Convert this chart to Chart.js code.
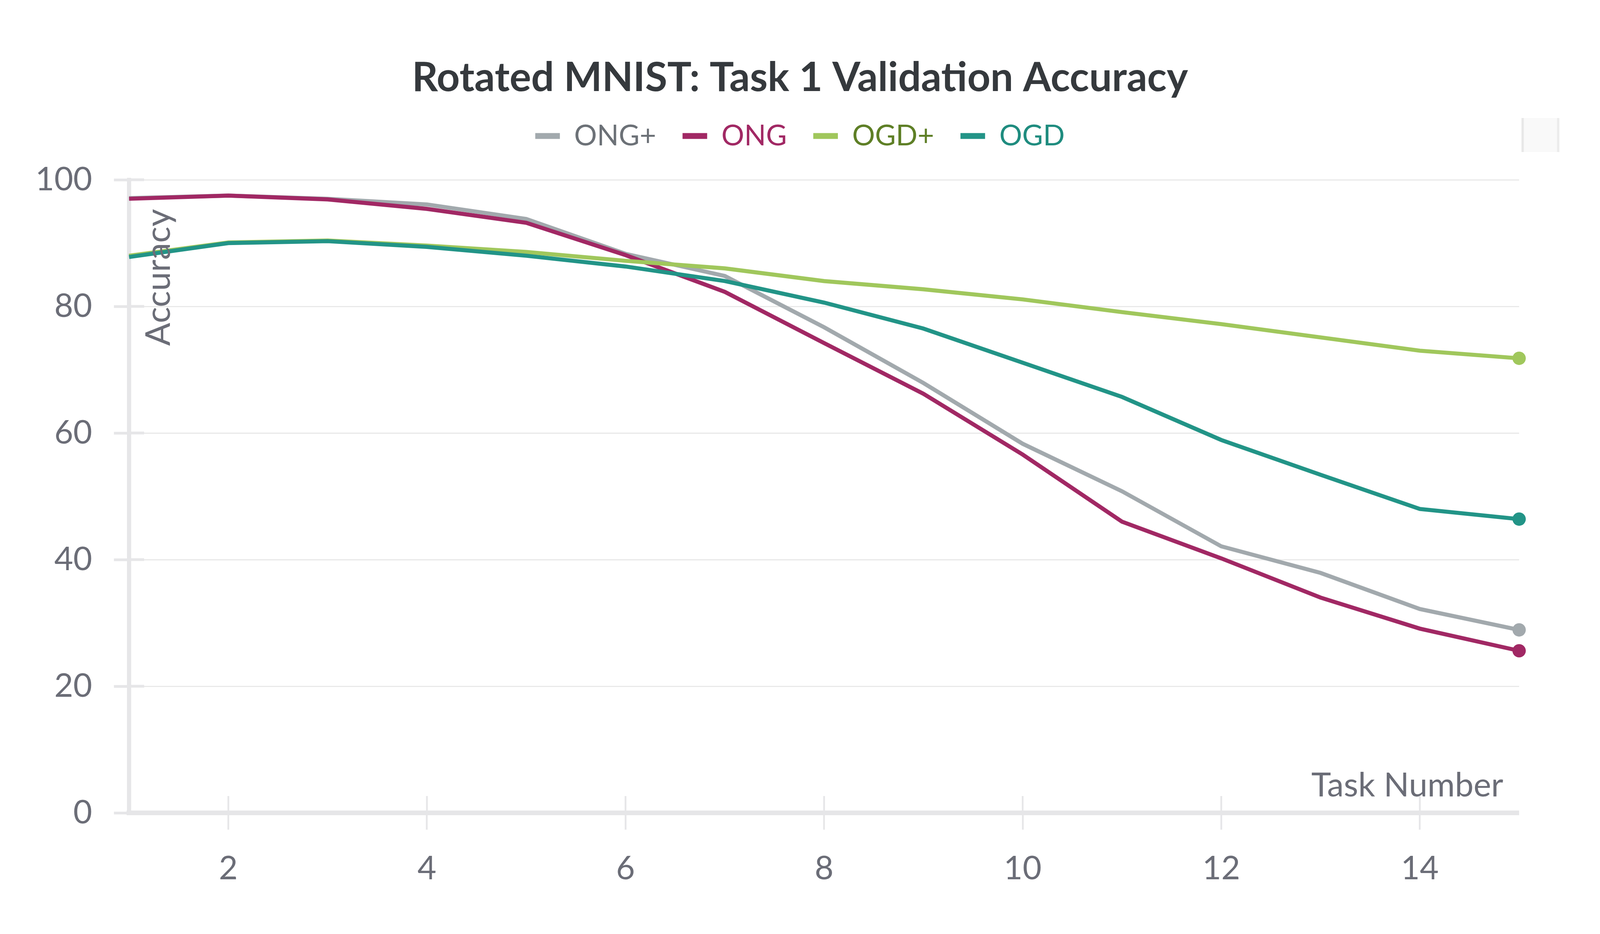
<!DOCTYPE html>
<html>
<head>
<meta charset="utf-8">
<script src="https://cdn.jsdelivr.net/npm/chart.js@4.4.1/dist/chart.umd.min.js"></script>
<style>
  html, body { margin: 0; padding: 0; background: #fff; overflow: hidden; }
  #wrap { position: relative; width: 100vw; height: 100vh; }
  #menuBox { position: absolute; background: #f9f9f9; box-sizing: border-box;
             border-left: solid #e8e8e8; border-right: solid #ececec; }
</style>
</head>
<body>
<div id="wrap">
  <canvas id="chart"></canvas>
  <div id="menuBox"></div>
</div>
<script>
// data
const tasks = [1, 2, 3, 4, 5, 6, 7, 8, 9, 10, 11, 12, 13, 14, 15];
const ongPlus = [97.1, 97.5, 97.0, 96.1, 93.8, 88.3, 84.8, 76.7, 67.9, 58.3, 50.8, 42.1, 37.9, 32.2, 28.9];
const ong     = [97.0, 97.5, 96.9, 95.4, 93.2, 88.1, 82.3, 74.2, 66.2, 56.6, 46.0, 40.2, 34.0, 29.1, 25.6];
const ogdPlus = [88.0, 90.1, 90.4, 89.6, 88.6, 87.2, 86.0, 84.0, 82.7, 81.1, 79.1, 77.2, 75.1, 73.0, 71.8];
const ogd     = [87.8, 90.0, 90.3, 89.4, 88.0, 86.3, 84.0, 80.6, 76.5, 71.1, 65.7, 58.9, 53.4, 48.0, 46.4];
const xTickValues = [2, 4, 6, 8, 10, 12, 14];
const yTickValues = [0, 20, 40, 60, 80, 100];

// layout numbers are for a 4550 x 2390 page; scale to the real viewport
const SX = window.innerWidth / 4550;
const SY = window.innerHeight / 2390;
const SF = Math.sqrt(SX * SY);
const hx = v => v * SX, vy = v => v * SY, fs = v => v * SF;

const FONT = 'Lato';
const tickColor = '#6b6d77';
const axisColor = '#e6e6e8';

const series = [
  { label: 'ONG+', values: ongPlus, color: '#a2a9ad', text: '#6c7177', order: 3 },
  { label: 'ONG',  values: ong,     color: '#a12864', text: '#a12864', order: 2 },
  { label: 'OGD+', values: ogdPlus, color: '#a0c75c', text: '#5e7f26', order: 1 },
  { label: 'OGD',  values: ogd,     color: '#229487', text: '#1f8c7f', order: 0 }
];

Object.assign(document.getElementById('menuBox').style, {
  left: hx(4327) + 'px', top: vy(302) + 'px', width: hx(108) + 'px', height: vy(87) + 'px',
  borderLeftWidth: hx(7) + 'px', borderRightWidth: hx(7) + 'px'
});

// vertical stacking: title, legend, then a spacer so the plot starts at y=460
const titleSize = fs(109), legendSize = fs(77), legendPad = hx(75);
const titleTop = vy(200) - 0.6 * titleSize;
const legendTop = vy(348) - legendPad - legendSize / 2;
const titleBottom = legendTop - titleTop - 1.2 * titleSize;
const spacer = vy(460) - (legendTop + legendSize + legendPad + 10);

// tick stubs inside the plot + axis titles drawn inside the plot area
const axisExtras = {
  id: 'axisExtras',
  beforeDatasetsDraw(chart) {
    const { ctx, chartArea: a, scales: { x, y } } = chart;
    ctx.save();
    ctx.strokeStyle = axisColor;
    ctx.lineWidth = vy(7);
    y.ticks.forEach(t => {
      const p = y.getPixelForValue(t.value);
      ctx.beginPath(); ctx.moveTo(a.left, p); ctx.lineTo(a.left + hx(43), p); ctx.stroke();
    });
    ctx.lineWidth = hx(5);
    x.ticks.forEach(t => {
      const p = x.getPixelForValue(t.value);
      ctx.beginPath(); ctx.moveTo(p, a.bottom - vy(43)); ctx.lineTo(p, a.bottom); ctx.stroke();
    });
    ctx.restore();
  },
  afterDatasetsDraw(chart) {
    const { ctx, chartArea: a } = chart;
    ctx.save();
    ctx.fillStyle = tickColor;
    ctx.font = fs(92) + 'px ' + FONT;
    ctx.textBaseline = 'alphabetic';
    ctx.textAlign = 'left';
    ctx.translate(a.left + hx(116), a.top + vy(425));
    ctx.rotate(-Math.PI / 2);
    ctx.fillText('Accuracy', 0, 0);
    ctx.restore();

    ctx.save();
    ctx.fillStyle = tickColor;
    ctx.font = fs(90) + 'px ' + FONT;
    ctx.textAlign = 'right';
    ctx.textBaseline = 'alphabetic';
    ctx.fillText('Task Number', a.right - hx(45), a.bottom - vy(42));
    ctx.restore();
  }
};

new Chart(document.getElementById('chart'), {
  type: 'line',
  data: {
    datasets: series.map(s => ({
      label: s.label,
      data: s.values.map((v, i) => ({ x: tasks[i], y: v })),
      borderColor: s.color,
      backgroundColor: s.color,
      borderWidth: fs(11),
      tension: 0,
      fill: false,
      clip: false,
      order: s.order,
      pointRadius: ctx => ctx.dataIndex === tasks.length - 1 ? fs(18) : 0,
      pointHoverRadius: 0,
      pointBorderWidth: 0,
      legendText: s.text
    }))
  },
  options: {
    responsive: true,
    maintainAspectRatio: false,
    animation: false,
    layout: { padding: 0 },
    plugins: {
      tooltip: { enabled: false },
      title: {
        display: true,
        text: 'Rotated MNIST: Task 1 Validation Accuracy',
        color: '#35393d',
        font: { family: FONT, size: titleSize, weight: 'bold' },
        padding: { top: titleTop, bottom: titleBottom }
      },
      legend: {
        position: 'top',
        labels: {
          font: { family: FONT, size: legendSize },
          boxWidth: hx(70),
          boxHeight: vy(15),
          padding: legendPad,
          useBorderRadius: true,
          borderRadius: fs(5),
          generateLabels: chart => chart.data.datasets.map((d, i) => ({
            text: d.label,
            fillStyle: d.borderColor,
            strokeStyle: d.borderColor,
            lineWidth: 0,
            fontColor: d.legendText,
            hidden: false,
            datasetIndex: i
          }))
        }
      }
    },
    scales: {
      x: {
        type: 'linear',
        min: 1,
        max: 15,
        afterBuildTicks: s => { s.ticks = xTickValues.map(v => ({ value: v })); },
        afterFit: s => { s.height = vy(310); },
        grid: { drawOnChartArea: false, drawTicks: true, tickLength: vy(43), tickWidth: hx(5), tickColor: axisColor },
        border: { display: true, color: axisColor, width: vy(12) },
        ticks: { color: tickColor, font: { family: FONT, size: fs(88) }, padding: vy(50), maxRotation: 0 }
      },
      xTop: {
        type: 'linear', axis: 'x', position: 'top', display: true,
        grid: { display: false }, border: { display: false }, ticks: { display: false },
        afterFit: s => { s.height = spacer; }
      },
      y: {
        min: 0,
        max: 100,
        afterBuildTicks: s => { s.ticks = yTickValues.map(v => ({ value: v })); },
        afterFit: s => { s.width = hx(367); },
        grid: { color: '#e9e9e9', lineWidth: vy(3), drawTicks: true, tickLength: hx(43), tickWidth: vy(7), tickColor: axisColor },
        border: { display: true, color: axisColor, width: hx(12) },
        ticks: { color: tickColor, font: { family: FONT, size: fs(88) }, padding: hx(62) }
      },
      yRight: {
        type: 'linear', axis: 'y', position: 'right', display: true,
        grid: { display: false }, border: { display: false }, ticks: { display: false },
        afterFit: s => { s.width = hx(230); }
      }
    }
  },
  plugins: [axisExtras]
});
</script>
</body>
</html>
